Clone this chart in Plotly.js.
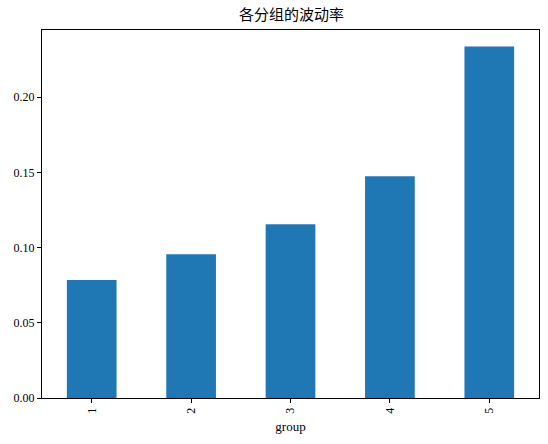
<!DOCTYPE html>
<html>
<head>
<meta charset="utf-8">
<script src="https://cdn.plot.ly/plotly-3.0.1.min.js"></script>
<style>html,body{margin:0;padding:0;background:#fff;}</style>
</head>
<body>
<div id="chart" style="width:548px;height:444px;"></div>
<script>
// volatility per group
let groups = ["1", "2", "3", "4", "5"];
let volatility = [0.0784, 0.0956, 0.1155, 0.1474, 0.2337];
let yTicks = [0, 0.05, 0.10, 0.15, 0.20];
let yTickText = ["0.00", "0.05", "0.10", "0.15", "0.20"];

let font = "Liberation Serif, 'Noto Sans CJK SC', serif";

let trace1 = {
    x: groups,
    y: volatility,
    type: "bar",
    width: 0.5,
    marker: {color: "#1f77b4"}
};

let layout = {
    width: 548,
    height: 444,
    margin: {l: 42, r: 9, t: 30, b: 46},
    paper_bgcolor: "#fff",
    plot_bgcolor: "#fff",
    font: {family: font, size: 12, color: "#000"},
    title: {text: "各分组的波动率", font: {family: font, size: 15}, x: 0.532, xanchor: "center", y: 0.966, yanchor: "middle"},
    showlegend: false,
    xaxis: {
        type: "category",
        range: [-0.5, 4.5],
        tickangle: -90,
        ticks: "outside",
        ticklen: 4,
        tickcolor: "#000",
        showline: true,
        linecolor: "#000",
        linewidth: 1,
        mirror: true,
        showgrid: false,
        title: {text: "group", font: {family: font, size: 13}, standoff: 9}
    },
    yaxis: {
        range: [0, 0.2447],
        tickvals: yTicks,
        ticktext: yTickText,
        ticks: "outside",
        ticklen: 4,
        tickcolor: "#000",
        showline: true,
        linecolor: "#000",
        linewidth: 1,
        mirror: true,
        showgrid: false,
        zeroline: false
    }
};

Plotly.newPlot("chart", [trace1], layout, {displayModeBar: false});
</script>
</body>
</html>
